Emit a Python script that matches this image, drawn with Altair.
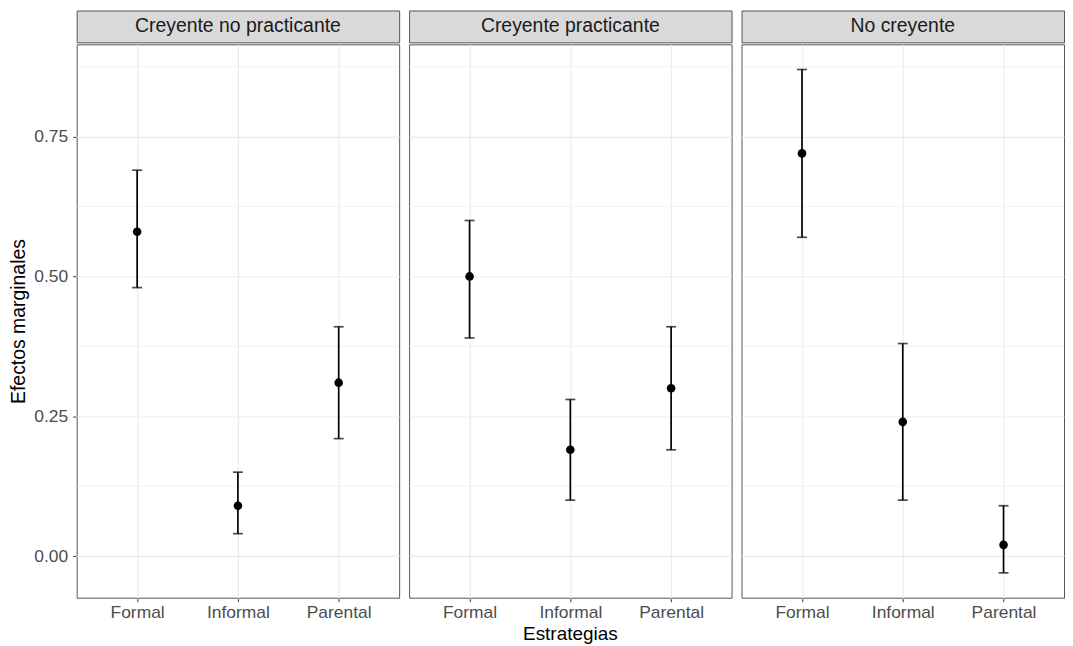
import altair as alt
import pandas as pd

grupos = ["Creyente no practicante", "Creyente practicante", "No creyente"]
estrategias = ["Formal", "Informal", "Parental"]

# estimates per group (order: Formal, Informal, Parental)
efecto = {
    "Creyente no practicante": [0.58, 0.09, 0.31],
    "Creyente practicante": [0.50, 0.19, 0.30],
    "No creyente": [0.72, 0.24, 0.02],
}
lim_inf = {
    "Creyente no practicante": [0.48, 0.04, 0.21],
    "Creyente practicante": [0.39, 0.10, 0.19],
    "No creyente": [0.57, 0.10, -0.03],
}
lim_sup = {
    "Creyente no practicante": [0.69, 0.15, 0.41],
    "Creyente practicante": [0.60, 0.28, 0.41],
    "No creyente": [0.87, 0.38, 0.09],
}

y_major = [0.0, 0.25, 0.50, 0.75]
y_minor = [0.125, 0.375, 0.625, 0.875]
y_domain = [-0.0745, 0.915]

rows = []
for g in grupos:
    for i, e in enumerate(estrategias):
        rows.append({"tipo": "est", "grupo": g, "estrategia": e,
                     "efecto": efecto[g][i], "li": lim_inf[g][i], "ls": lim_sup[g][i]})
    for v in y_minor:
        rows.append({"tipo": "grid", "grupo": g, "valor": v})
df = pd.DataFrame(rows)
strip_df = pd.DataFrame({"grupo": grupos})

FONT = "Liberation Sans"
W, H = 324, 556
SP = 8
BORDER = "#555555"

yscale = alt.Scale(domain=y_domain, nice=False, zero=False)
yaxis = alt.Axis(title="Efectos marginales", values=y_major, format=".2f",
                 grid=True, gridColor="#EBEBEB", gridWidth=1.1,
                 labelFontSize=17.5, labelColor="#4D4D4D", labelPadding=5,
                 tickColor="#333333", tickSize=3, tickWidth=1, domain=False,
                 titleFontSize=19.5, titleColor="black", titleFontWeight="normal",
                 titlePadding=5, titleFont=FONT, labelFont=FONT)
xenc = alt.X("estrategia:N", sort=estrategias,
             scale=alt.Scale(type="point", padding=0.6),
             axis=alt.Axis(title=None, grid=True, gridColor="#EBEBEB", gridWidth=1.1,
                           labelAngle=0, labelFontSize=17.5, labelColor="#4D4D4D",
                           labelPadding=2, labelBaseline="top",
                           tickColor="#333333", tickSize=3, domain=False, labelFont=FONT))

base = alt.Chart()
est = base.transform_filter("datum.tipo == 'est'")

minor = base.transform_filter("datum.tipo == 'grid'").mark_rule(
    color="#EBEBEB", strokeWidth=0.6).encode(
    y=alt.Y("valor:Q", scale=yscale, axis=yaxis))

bars = est.mark_rule(color="black", strokeWidth=1.7).encode(
    x=xenc, y=alt.Y("li:Q", scale=yscale, axis=yaxis), y2="ls:Q")
cap_lo = est.mark_tick(color="black", size=10, thickness=1.7).encode(
    x=xenc, y=alt.Y("li:Q", scale=yscale, axis=yaxis))
cap_hi = est.mark_tick(color="black", size=10, thickness=1.7).encode(
    x=xenc, y=alt.Y("ls:Q", scale=yscale, axis=yaxis))
pts = est.mark_circle(color="black", size=75, opacity=1).encode(
    x=xenc, y=alt.Y("efecto:Q", scale=yscale, axis=yaxis))

panels = alt.layer(minor, bars, cap_lo, cap_hi, pts, data=df).properties(
    width=W, height=H,
    view=alt.ViewBackground(fill="white", stroke=BORDER, strokeWidth=1),
).facet(
    column=alt.Column("grupo:N", sort=grupos, title="Estrategias",
                      header=alt.Header(labels=False, titleOrient="bottom",
                                        titleFontSize=19, titleColor="black",
                                        titleFontWeight="normal", titleFont=FONT,
                                        titlePadding=-7)),
    spacing=SP,
)

strip = alt.Chart(strip_df).mark_text(
    fontSize=19.5, font=FONT, color="#1A1A1A", baseline="middle"
).encode(
    text="grupo:N",
    x=alt.X("grupo:N", axis=None),
).properties(
    width=W, height=32,
    view=alt.ViewBackground(fill="#D9D9D9", stroke=BORDER, strokeWidth=1),
).facet(
    column=alt.Column("grupo:N", sort=grupos, title=None,
                      header=alt.Header(labels=False)),
    spacing=SP,
).resolve_scale(x="independent")

chart = alt.vconcat(strip, panels, spacing=0).properties(
    padding={"left": 0, "top": 0, "right": 0, "bottom": 0}
).configure_view(
    stroke=BORDER, strokeWidth=1
).configure(font=FONT, background="white")

chart.save("out.html", embed_options={"renderer": "svg", "actions": False})
